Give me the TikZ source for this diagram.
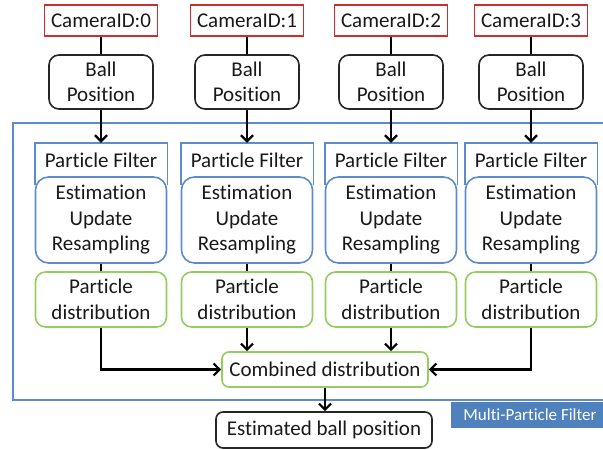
\documentclass[tikz,border=0pt]{standalone}
\usepackage{fontspec}
\setmainfont{Carlito}[Ligatures=NoCommon]
\usetikzlibrary{arrows.meta}
\definecolor{camred}{RGB}{205,45,45}
\definecolor{pfblue}{RGB}{92,140,205}
\definecolor{labelblue}{RGB}{79,129,189}
\definecolor{distgreen}{RGB}{150,205,95}
\definecolor{txt}{RGB}{25,25,25}
\tikzset{
  base/.style={align=center, text=txt, inner sep=0pt,
    font=\fontsize{21}{25.5}\selectfont},
  cambox/.style={base, draw=camred, line width=1.6pt,
    minimum width=113pt, minimum height=31pt},
  ballbox/.style={base, draw=black!85, line width=1.6pt, rounded corners=10pt,
    minimum width=104pt, minimum height=54pt},
  header/.style={base, minimum width=131pt, minimum height=34pt},
  estbox/.style={base, draw=pfblue, line width=1.6pt, rounded corners=13pt,
    fill=white, minimum width=131pt, minimum height=86pt},
  distbox/.style={base, draw=distgreen, line width=1.6pt, rounded corners=10pt,
    minimum width=131pt, minimum height=55pt},
  combbox/.style={base, draw=distgreen, line width=1.6pt, rounded corners=7pt,
    minimum width=206pt, minimum height=35pt},
  outbox/.style={base, draw=black!85, line width=1.6pt, rounded corners=7pt,
    minimum width=216pt, minimum height=36pt},
  link/.style={draw=black, line width=2.2pt},
  arrowlink/.style={link, -{Straight Barb[length=6pt,width=12pt,line width=2.2pt]}},
}
\begin{document}
\begin{tikzpicture}[x=1pt,y=-1pt]
\useasboundingbox (0,0) rectangle (603,450);

% multi-particle filter frame, open to the right edge
\draw[pfblue, line width=1.6pt] (640,123) -- (13,123) -- (13,400) -- (640,400);
\fill[labelblue] (451,401.5) rectangle (640,428);
\node[base, text=white, font=\fontsize{17}{20}\selectfont] (mpflabel) at (530,415) {Multi-Particle Filter};

% the four camera pipelines
\foreach \i/\cx in {0/101,1/247,2/391,3/531}{
  \node[cambox]  (cam\i)  at (\cx,20.5) {CameraID:\i};
  \node[ballbox] (ball\i) at (\cx,82)   {Ball\\Position};
  \node[header]  (hdr\i)  at (\cx,160)  {Particle Filter};
  \node[estbox]  (est\i)  at (\cx,220)  {Estimation\\Update\\Resampling};
  \node[distbox] (dist\i) at (\cx,299.5) {Particle\\distribution};
  \draw[pfblue, line width=1.6pt]
    ([yshift=-9pt]est\i.north west) |- (hdr\i.north) -| ([yshift=-9pt]est\i.north east);
  \draw[link] (cam\i) -- (ball\i);
  \draw[arrowlink] (ball\i.south) -- (hdr\i.north);
  \draw[link] (est\i) -- (dist\i);
}

\node[combbox] (comb) at (325,369.5) {Combined distribution};
\node[outbox]  (est)  at (324,430)   {Estimated ball position};

\draw[arrowlink] (dist0.south) |- (comb.west);
\draw[arrowlink] (dist3.south) |- (comb.east);
\draw[arrowlink] (dist1.south) -- (dist1.south |- comb.north);
\draw[arrowlink] (dist2.south) -- (dist2.south |- comb.north);
\draw[arrowlink] (comb.south) -- (comb.south |- est.north);
\end{tikzpicture}
\end{document}
